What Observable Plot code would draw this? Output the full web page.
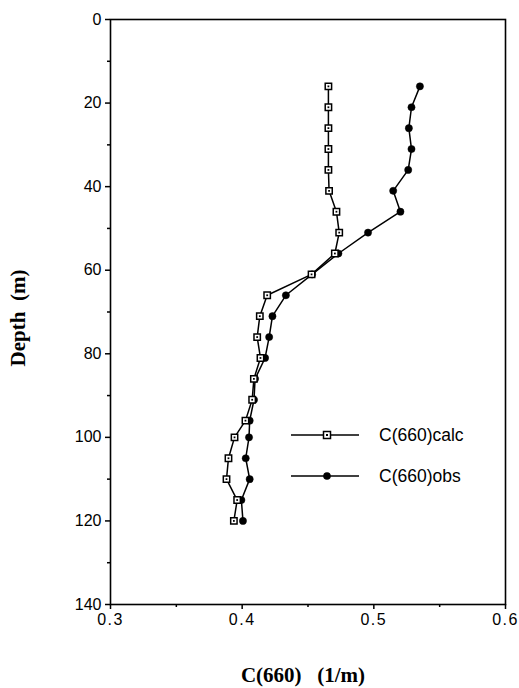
<!DOCTYPE html>
<html>
<head>
<meta charset="utf-8">
<script src="https://cdn.jsdelivr.net/npm/d3@7"></script>
<script src="https://cdn.jsdelivr.net/npm/@observablehq/plot@0.6"></script>
<style>
  html, body { margin: 0; padding: 0; background: #fff; }
  #wrap { position: relative; width: 519px; height: 688px; }
  #overlay { position: absolute; left: 0; top: 0; pointer-events: none; }
  g[aria-label="x-axis tick label"] text { letter-spacing: 1.5px; }
</style>
</head>
<body>
<div id="wrap"></div>
<script>
// ---- data ----
const depth = [16, 21, 26, 31, 36, 41, 46, 51, 56, 61, 66, 71, 76, 81, 86, 91, 96, 100, 105, 110, 115, 120];
const calcValues = [0.4655, 0.4655, 0.4655, 0.4655, 0.4655, 0.466, 0.4716, 0.4737, 0.4704, 0.4527, 0.419, 0.4134, 0.4114, 0.4139, 0.4089, 0.4076, 0.4025, 0.3942, 0.3896, 0.3881, 0.3962, 0.3937];
const obsValues  = [0.535, 0.5286, 0.5266, 0.5286, 0.5261, 0.5147, 0.5202, 0.4956, 0.4731, 0.4531, 0.4332, 0.423, 0.4205, 0.4174, 0.4098, 0.409, 0.4057, 0.4052, 0.4027, 0.4057, 0.3994, 0.4006];
const xMajorTicks = [0.3, 0.4, 0.5, 0.6];
const xMinorTicks = [0.35, 0.45, 0.55];
const yMajorTicks = [0, 20, 40, 60, 80, 100, 120, 140];
const yMinorTicks = [10, 30, 50, 70, 90, 110, 130];
const seriesNames = ["C(660)calc", "C(660)obs"];
const xTitle = "C(660)\u00a0\u00a0\u00a0(1/m)";
const yTitle = "Depth\u00a0\u00a0(m)";

const calc = depth.map((d, i) => ({depth: d, value: calcValues[i]}));
const obs = depth.map((d, i) => ({depth: d, value: obsValues[i]}));

const W = 519, H = 688;
const mL = 110, mR = 14, mT = 19, mB = 84;
const tickFont = "Liberation Sans, Arial, Helvetica, sans-serif";
const titleFont = "Liberation Serif, Times New Roman, serif";

const chart = Plot.plot({
  width: W, height: H,
  marginLeft: mL, marginRight: mR, marginTop: mT, marginBottom: mB,
  style: {background: "#fff", color: "#000", fontFamily: tickFont, fontSize: "16px"},
  x: {domain: [0.3, 0.6]},
  y: {domain: [0, 140], reverse: true},
  marks: [
    Plot.frame({stroke: "#000", strokeWidth: 1.6}),
    Plot.axisX({ticks: xMajorTicks, tickSize: 5, tickPadding: 4, tickFormat: d3.format(".1f"), label: null, fontSize: 16, strokeWidth: 1.5}),
    Plot.axisX({ticks: xMinorTicks, tickSize: 3, tickFormat: () => "", label: null, strokeWidth: 1.5}),
    Plot.axisY({ticks: yMajorTicks, tickSize: 5, tickPadding: 4, label: null, fontSize: 16, strokeWidth: 1.5}),
    Plot.axisY({ticks: yMinorTicks, tickSize: 3, tickFormat: () => "", label: null, strokeWidth: 1.5}),
    Plot.line(calc, {x: "value", y: "depth", stroke: "#000", strokeWidth: 1.5}),
    Plot.line(obs, {x: "value", y: "depth", stroke: "#000", strokeWidth: 1.5}),
    Plot.dot(obs, {x: "value", y: "depth", r: 3.6, fill: "#000", stroke: "#000", strokeWidth: 0.5}),
    Plot.dot(calc, {x: "value", y: "depth", symbol: "square", r: 3.6, fill: "#fff", stroke: "#000", strokeWidth: 1.5}),
    Plot.dot(calc, {x: "value", y: "depth", symbol: "square", r: 1.0, fill: "#000"})
  ]
});
const wrap = document.getElementById("wrap");
wrap.appendChild(chart);

// ---- overlay: axis titles and the in-plot legend ----
const ns = "http://www.w3.org/2000/svg";
const ov = document.createElementNS(ns, "svg");
ov.setAttribute("id", "overlay");
ov.setAttribute("width", W);
ov.setAttribute("height", H);

function addText(str, attrs) {
  const t = document.createElementNS(ns, "text");
  for (const k in attrs) t.setAttribute(k, attrs[k]);
  t.textContent = str;
  ov.appendChild(t);
  return t;
}
addText(xTitle, {x: 303, y: 682, "text-anchor": "middle", "font-family": titleFont, "font-weight": "bold", "font-size": 21, fill: "#000"});
addText(yTitle, {transform: "translate(18,318) rotate(-90)", "text-anchor": "middle", dy: "0.35em", "font-family": titleFont, "font-weight": "bold", "font-size": 21, fill: "#000"});

const rows = [435, 476];
seriesNames.forEach((name, i) => {
  const y = rows[i];
  const ln = document.createElementNS(ns, "line");
  ln.setAttribute("x1", 291); ln.setAttribute("x2", 359);
  ln.setAttribute("y1", y); ln.setAttribute("y2", y);
  ln.setAttribute("stroke", "#000"); ln.setAttribute("stroke-width", 1.5);
  ov.appendChild(ln);
  if (i === 0) {
    const r = document.createElementNS(ns, "rect");
    r.setAttribute("x", 327 - 3.5); r.setAttribute("y", y - 3.5);
    r.setAttribute("width", 7); r.setAttribute("height", 7);
    r.setAttribute("fill", "#fff"); r.setAttribute("stroke", "#000"); r.setAttribute("stroke-width", 1.5);
    ov.appendChild(r);
    const r2 = document.createElementNS(ns, "rect");
    r2.setAttribute("x", 326); r2.setAttribute("y", y - 1);
    r2.setAttribute("width", 2); r2.setAttribute("height", 2);
    r2.setAttribute("fill", "#000");
    ov.appendChild(r2);
  } else {
    const c = document.createElementNS(ns, "circle");
    c.setAttribute("cx", 327); c.setAttribute("cy", y); c.setAttribute("r", 3.8);
    c.setAttribute("fill", "#000");
    ov.appendChild(c);
  }
  addText(name, {x: 379, y: y, dy: "0.36em", "font-family": tickFont, "font-size": 17.5, fill: "#000"});
});
wrap.appendChild(ov);
</script>
</body>
</html>
